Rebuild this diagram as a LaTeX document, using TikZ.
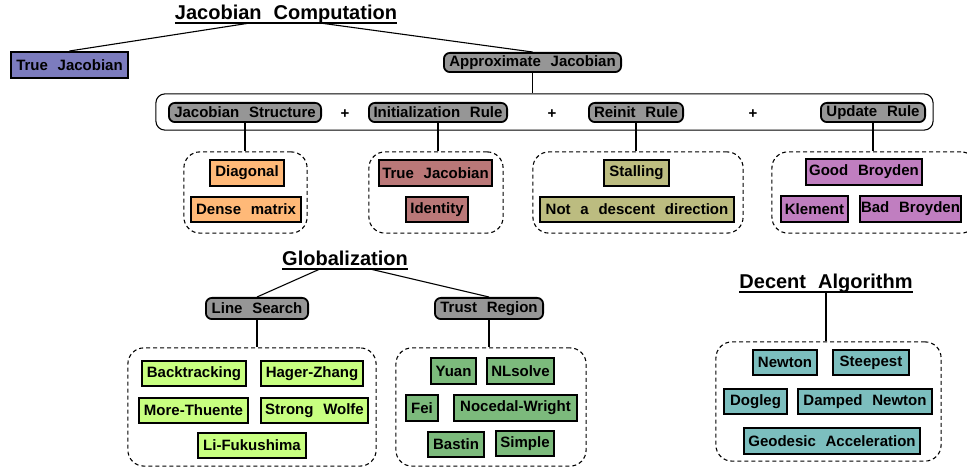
\documentclass[tikz,border=0pt]{standalone}
\usepackage{fontspec}
\setmainfont{Liberation Sans}
\usetikzlibrary{calc}
\definecolor{cblue}{RGB}{124,124,190}
\definecolor{cgray}{RGB}{150,150,150}
\definecolor{corange}{RGB}{255,185,120}
\definecolor{crose}{RGB}{186,120,120}
\definecolor{colive}{RGB}{188,188,128}
\definecolor{cpurple}{RGB}{192,126,192}
\definecolor{clgreen}{RGB}{200,255,128}
\definecolor{cgreen}{RGB}{124,186,124}
\definecolor{cteal}{RGB}{124,190,190}
\newcommand\lblfont{\bfseries\fontsize{15}{18}\selectfont\spaceskip 0.65em\relax}
\newcommand\ttlfont{\bfseries\fontsize{20}{24}\selectfont\spaceskip 0.6em\relax}
\newcommand\bx[7]{\node[#2, minimum width={#5-#3-1.8}, minimum height={#6-#4-1.8}] (#1) at ({(#3+#5)/2},{(#4+#6)/2}) {#7};}
\tikzset{
 lbl/.style={font={\lblfont}, inner sep=0pt, align=center},
 leaf/.style={lbl, draw, line width=1.8pt},
 cat/.style={lbl, draw, line width=1.8pt, rounded corners=6pt, fill=cgray},
 grp/.style={draw, dash pattern=on 4pt off 3pt, line width=1.1pt, rounded corners=16pt},
 bigbox/.style={draw, line width=1.1pt, rounded corners=9pt},
 ttl/.style={font={\ttlfont}, inner sep=0pt, anchor=base},
 conn/.style={line width=1.1pt},
 plus/.style={font={\lblfont}, inner sep=0pt},
}
\begin{document}
\begin{tikzpicture}[x=1pt,y=-1pt]
\useasboundingbox (0,0) rectangle (967,470);
% ---- Jacobian computation
\node[ttl] (jc) at (286,20) {Jacobian Computation};
\draw[conn] ([yshift=-3pt]jc.base west) -- ([yshift=-3pt]jc.base east);
\bx{tj}{leaf,fill=cblue}{10}{51}{129}{79}{True Jacobian}
\bx{aj}{cat}{443}{52}{622}{73}{Approximate Jacobian}
\draw[conn] ($(jc.base)+(-36,3)$) -- (tj.north);
\draw[conn] ($(jc.base)+(34,3)$) -- (aj.north);
\bx{big}{bigbox}{155}{93}{934}{131}{}
\draw[conn] (aj.south) -- (aj.south |- big.north);
\bx{js}{cat}{168}{102}{322}{123}{Jacobian Structure}
\node[plus] (p1) at (345,114) {+};
\bx{ir}{cat}{368}{102}{508}{123}{Initialization Rule}
\node[plus] (p2) at (552,114) {+};
\bx{rr}{cat}{588}{102}{684}{123}{Reinit Rule}
\node[plus] (p3) at (753,114) {+};
\bx{ur}{cat}{820}{102}{926}{123}{Update Rule}
% groups
\bx{g1}{grp}{183}{151}{308}{234}{}
\bx{diag}{leaf,fill=corange}{209}{159}{285}{187}{Diagonal}
\bx{dense}{leaf,fill=corange}{190}{196}{302}{223}{Dense matrix}
\bx{g2}{grp}{368}{151}{504}{234}{}
\bx{tjb}{leaf,fill=crose}{378}{159}{493}{187}{True Jacobian}
\bx{iden}{leaf,fill=crose}{405}{196}{469}{223}{Identity}
\bx{g3}{grp}{532}{151}{744}{234}{}
\bx{stall}{leaf,fill=colive}{603}{159}{670}{187}{Stalling}
\bx{nad}{leaf,fill=colive}{539}{196}{735}{223}{Not a descent direction}
\bx{g4}{grp}{771}{151}{978}{234}{}
\bx{gb}{leaf,fill=cpurple}{805}{158}{923}{186}{Good Broyden}
\bx{kl}{leaf,fill=cpurple}{780}{195}{849}{223}{Klement}
\bx{bb}{leaf,fill=cpurple}{859}{195}{962}{223}{Bad Broyden}
\draw[conn] (js.south) -- (js.south |- g1.north);
\draw[conn] (ir.south) -- (ir.south |- g2.north);
\draw[conn] (rr.south) -- (rr.south |- g3.north);
\draw[conn] (ur.south) -- (ur.south |- g4.north);
% ---- Globalization
\node[ttl] (gt) at (345,266) {Globalization};
\draw[conn] ([yshift=-3pt]gt.base west) -- ([yshift=-3pt]gt.base east);
\bx{ls}{cat}{205}{297}{309}{320}{Line Search}
\bx{tr}{cat}{434}{297}{544}{320}{Trust Region}
\draw[conn] ($(gt.base)+(-25,3)$) -- (ls.north);
\draw[conn] ($(gt.base)+(25,3)$) -- (tr.north);
\bx{g5}{grp}{127}{347}{377}{467}{}
\bx{bt}{leaf,fill=clgreen}{141}{360}{247}{387}{Backtracking}
\bx{hz}{leaf,fill=clgreen}{260}{360}{364}{387}{Hager-Zhang}
\bx{mt}{leaf,fill=clgreen}{138}{397}{249}{424}{More-Thuente}
\bx{sw}{leaf,fill=clgreen}{260}{397}{369}{424}{Strong Wolfe}
\bx{lf}{leaf,fill=clgreen}{197}{432}{307}{459}{Li-Fukushima}
\bx{g6}{grp}{395}{347}{587}{467}{}
\bx{yuan}{leaf,fill=cgreen}{430}{357}{477}{385}{Yuan}
\bx{nls}{leaf,fill=cgreen}{486}{357}{555}{385}{NLsolve}
\bx{fei}{leaf,fill=cgreen}{405}{394}{439}{422}{Fei}
\bx{nw}{leaf,fill=cgreen}{453}{394}{578}{422}{Nocedal-Wright}
\bx{bas}{leaf,fill=cgreen}{427}{431}{485}{458}{Bastin}
\bx{simp}{leaf,fill=cgreen}{495}{430}{555}{457}{Simple}
\draw[conn] (ls.south) -- (ls.south |- g5.north);
\draw[conn] (tr.south) -- (tr.south |- g6.north);
% ---- Decent algorithm
\node[ttl] (dt) at (826,289) {Decent Algorithm};
\draw[conn] ([yshift=-3pt]dt.base west) -- ([yshift=-3pt]dt.base east);
\bx{g7}{grp}{715}{341}{942}{462}{}
\bx{newt}{leaf,fill=cteal}{752}{349}{818}{376}{Newton}
\bx{steep}{leaf,fill=cteal}{832}{349}{910}{376}{Steepest}
\bx{dog}{leaf,fill=cteal}{723}{388}{788}{415}{Dogleg}
\bx{dn}{leaf,fill=cteal}{797}{388}{933}{415}{Damped Newton}
\bx{geo}{leaf,fill=cteal}{743}{427}{921}{455}{Geodesic Acceleration}
\draw[conn] ($(dt.base)+(0,3)$) -- (dt.base |- g7.north);
\end{tikzpicture}
\end{document}
